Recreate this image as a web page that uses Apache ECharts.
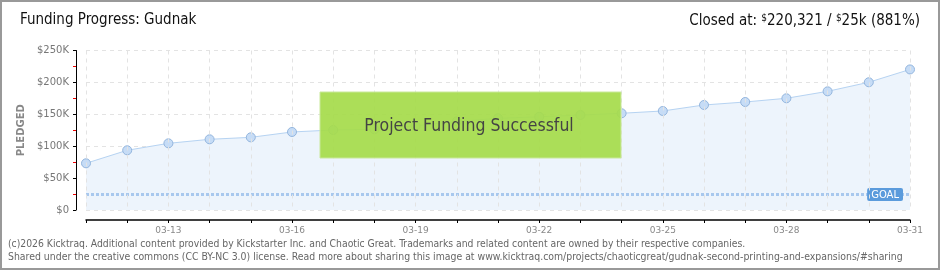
<!DOCTYPE html>
<html><head><meta charset="utf-8">
<script src="https://cdn.jsdelivr.net/npm/echarts@6/dist/echarts.min.js"></script>
<style>html,body{margin:0;padding:0;background:#fff}#c{width:940px;height:270px}</style>
</head><body><div id="c"></div>
<script>
var categories = ['03-11','03-12','03-13','03-14','03-15','03-16','03-17','03-18','03-19','03-20','03-21','03-22','03-23','03-24','03-25','03-26','03-27','03-28','03-29','03-30','03-31'];
var pledged = [73200, 93600, 104500, 110800, 113900, 122300, 125400, 126500, 132000, 139000, 143700, 146200, 148900, 151600, 155200, 164600, 169300, 175100, 186000, 200200, 220321];
var goal = 25000;
var yTicks = [0, 50000, 100000, 150000, 200000, 250000];
var titleText = 'Funding Progress: Gudnak';
var closedText = ['Closed at: ', '$', '220,321 / ', '$', '25k (881%)'];
var footer1 = '(c)2026 Kicktraq. Additional content provided by Kickstarter Inc. and Chaotic Great. Trademarks and related content are owned by their respective companies.';
var footer2 = 'Shared under the creative commons (CC BY-NC 3.0) license. Read more about sharing this image at www.kicktraq.com/projects/chaoticgreat/gudnak-second-printing-and-expansions/#sharing';
var bannerText = 'Project Funding Successful';

var font = '"DejaVu Sans Condensed", "DejaVu Sans", sans-serif';
var chart = echarts.init(document.getElementById('c'), null, {renderer: 'canvas'});
chart.setOption({
  animation: false,
  backgroundColor: '#fff',
  grid: {left: 86, right: 30, top: 50.5, bottom: 60},
  xAxis: {
    type: 'category', data: categories, boundaryGap: false, offset: 10, z: 10,
    axisLine: {show: true, onZero: false, lineStyle: {color: '#000', width: 1.5}},
    axisTick: {show: true, interval: 0, length: 3, inside: false, lineStyle: {color: '#000'}},
    axisLabel: {interval: function (i) { return (i - 2) % 3 === 0; }, color: '#888', fontSize: 9, fontFamily: 'DejaVu Sans, sans-serif', margin: 6},
    splitLine: {show: true, interval: 0, lineStyle: {color: '#e3e3e3', type: [4, 4]}}
  },
  yAxis: {
    type: 'value', min: 0, max: 250000, interval: 50000, offset: 10,
    name: 'PLEDGED', nameLocation: 'middle', nameGap: 50, nameRotate: 90,
    nameTextStyle: {color: '#888', fontSize: 10, fontFamily: 'DejaVu Sans, sans-serif', fontWeight: 'bold'},
    axisLine: {show: true, onZero: false, lineStyle: {color: '#000'}},
    axisTick: {show: true, length: 3, lineStyle: {color: '#000'}},
    minorTick: {show: true, splitNumber: 2, length: 3, lineStyle: {color: '#e00'}},
    axisLabel: {color: '#777', fontSize: 10, fontFamily: 'DejaVu Sans, sans-serif', margin: 7,
      formatter: function (v) { return yTicks.indexOf(v) >= 0 ? '$' + (v / 1000) + (v ? 'K' : '') : ''; }},
    splitLine: {show: true, lineStyle: {color: '#e3e3e3', type: [4, 4]}}
  },
  series: [{
    type: 'line', data: pledged,
    symbol: 'circle', symbolSize: 9,
    itemStyle: {color: '#c6dcf6', borderColor: '#94b6de', borderWidth: 1},
    lineStyle: {color: '#b6d3f2', width: 1},
    areaStyle: {color: '#edf4fc', opacity: 1},
    markLine: {
      silent: true, symbol: 'none',
      lineStyle: {color: '#a8c8ee', type: [3, 2], width: 3},
      label: {show: true, position: 'insideEndTop', formatter: 'GOAL', color: '#fff', fontSize: 10,
        fontFamily: 'DejaVu Sans, sans-serif', backgroundColor: '#5b9bdc', padding: [2, 4, 1, 4],
        borderRadius: 2, offset: [-2, 12]},
      data: [{yAxis: goal}]
    }
  }],
  graphic: [
    {type: 'rect', shape: {x: 1, y: 1, width: 938, height: 268}, style: {fill: 'none', stroke: '#999', lineWidth: 2}, z: 100},
    {type: 'text', left: 20, top: 13, style: {text: titleText, font: '15px ' + font, fill: '#111'}},
    {type: 'text', right: 20, top: 13, style: {
      text: '{a|' + closedText[0] + '}{s|' + closedText[1] + '}{a|' + closedText[2] + '}{s|' + closedText[3] + '}{a|' + closedText[4] + '}',
      rich: {a: {font: '15px ' + font, fill: '#111'}, s: {font: '10px ' + font, fill: '#111', verticalAlign: 'top', padding: [0, 0, 6, 0]}}}},
    {type: 'rect', shape: {x: 320, y: 92, width: 301, height: 66}, style: {fill: 'rgba(166,220,75,0.93)', stroke: '#c8e89a', lineWidth: 1}, z: 50},
    {type: 'text', x: 469, y: 126, style: {text: bannerText, font: '17.5px ' + font, fill: '#444', align: 'center', verticalAlign: 'middle', shadowColor: '#fff', shadowOffsetX: 1, shadowOffsetY: 1, shadowBlur: 0}, z: 51},
    {type: 'text', left: 8, top: 239, style: {text: footer1, font: '10.3px ' + font, fill: '#666'}},
    {type: 'text', left: 8, top: 252, style: {text: footer2, font: '10.4px ' + font, fill: '#666'}}
  ]
});
</script></body></html>
